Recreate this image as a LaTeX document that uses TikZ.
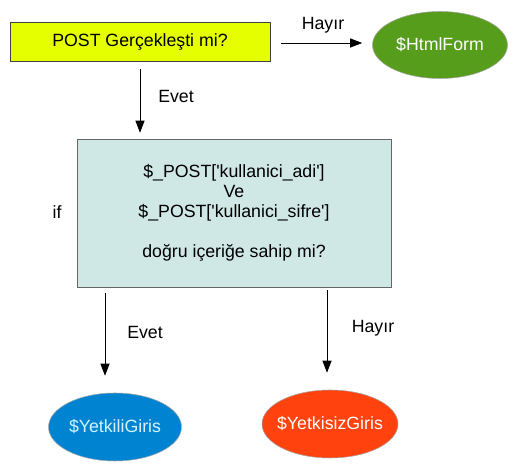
\documentclass[tikz,border=0pt]{standalone}
\usepackage{fontspec}
\setmainfont{Liberation Sans}
\usetikzlibrary{arrows.meta, positioning, calc, shapes.geometric}
\definecolor{condyellow}{HTML}{E6FF00}
\definecolor{checkteal}{HTML}{CFE7E5}
\definecolor{formgreen}{HTML}{579D1C}
\definecolor{okblue}{HTML}{0084D1}
\definecolor{nored}{HTML}{FF420E}
\definecolor{oktext}{HTML}{D4F2FF}
\newcommand{\txt}{\fontsize{13.3}{15}\selectfont}
\newcommand{\nowidth}[1]{\makebox[0pt]{#1}}

\begin{document}
\begin{tikzpicture}[
  x=0.75pt, y=-0.75pt,
  box/.style    = {draw=black!75, minimum width=195pt, minimum height=29.25pt,
                   align=center, font=\txt, inner sep=0pt},
  result/.style = {draw=gray!70, ellipse, minimum width=101pt, minimum height=51pt,
                   inner sep=0pt, font=\txt},
  lbl/.style    = {font=\txt, inner sep=0pt},
  arr/.style    = {-{Triangle[length=9pt, width=6.75pt]}, semithick},
]
\useasboundingbox (0,0) rectangle (529,473);

% ── Nodes ────────────────────────────────────────────────────────────────────
\node[box, fill=condyellow] (cond) at (140,41.5) {POST Gerçekleşti mi?};
\node[result, fill=formgreen, text=white, minimum width=101.25pt, minimum height=50.25pt]
  (html) at (440,45) {\nowidth{\$HtmlForm}};
\node[box, fill=checkteal, draw=black!60, minimum width=235.5pt, minimum height=111pt]
  (check) at (234,213)
  {\$\_POST[\textquotesingle kullanici\_adi\textquotesingle]\\
   Ve\\
   \$\_POST[\textquotesingle kullanici\_sifre\textquotesingle]\\[15pt]
   doğru içeriğe sahip mi?};
\node[lbl] (if) at (57,212) {if};
\node[result, fill=okblue, text=oktext, minimum width=99.75pt] (yes) at (115,427) {\nowidth{\$YetkiliGiris}};
\node[result, fill=nored, text=white, minimum width=102pt] (no) at (330,424) {\nowidth{\$YetkisizGiris}};

% ── Connectors ───────────────────────────────────────────────────────────────
\draw[arr, shorten <=8.25pt, shorten >=7.5pt] (cond.east |- 0,43) -- (html.west |- 0,43);
\draw[arr, shorten <=6pt, shorten >=4.5pt] (cond.south) -- (cond.south |- check.north);
\draw[arr, shorten <=4.5pt, shorten >=12.75pt] (check.south -| 105,0) -- (yes.north -| 105,0);
\draw[arr, shorten <=2.25pt, shorten >=12.75pt] (check.south -| 327,0) -- (no.north -| 327,0);

% ── Labels ───────────────────────────────────────────────────────────────────
\node[lbl] (l1) at (323,25)  {Hayır};
\node[lbl] (l2) at (176,96)  {Evet};
\node[lbl] (l3) at (145,332) {Evet};
\node[lbl] (l4) at (373,328) {Hayır};
\end{tikzpicture}
\end{document}
